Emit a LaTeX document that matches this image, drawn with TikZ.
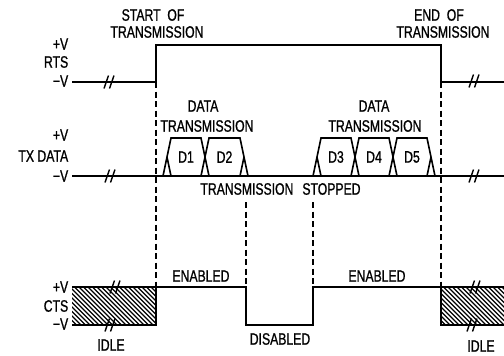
\documentclass[tikz,border=0pt]{standalone}
\usepackage{fontspec}
\setmainfont{Liberation Sans}[FakeStretch=0.74,FakeBold=0.9]
\begin{document}
\begin{tikzpicture}[x=1pt,y=-1pt, line width=1.6pt,
  lbl/.style={font=\fontsize{16.5}{16.5}\selectfont, inner sep=0pt},
  lblr/.style={lbl, anchor=east},
  guide/.style={dash pattern=on 6pt off 3.5pt, line width=1.4pt},
  hatchline/.style={line width=1.1pt},
  brk/.pic={\draw[line width=1.4pt] (-5,6.5) -- (-0.5,-6.5) (0.5,6.5) -- (5,-6.5);}]
\useasboundingbox (0,0) rectangle (504,356);

% RTS
\draw (72,82) -- (156,82) -- (156,45) -- (441,45) -- (441,82) -- (504,82);
\pic at (109,82) {brk};
\pic at (474,81) {brk};

% guides
\draw[guide] (156,82) -- (156,287);
\draw[guide] (441,82) -- (441,287);
\draw[guide] (246,202) -- (246,287);
\draw[guide] (313,202) -- (313,287);

% TX DATA
\draw (72,176) -- (504,176);
\draw (163,176) -- (171,138) -- (201,138) -- (209,176);
\draw (167,157) -- (171,176);
\draw (201,176) -- (209,138) -- (240,138) -- (248,176);
\draw (240,176) -- (244,157);
\draw (313,176) -- (321,138) -- (351,138) -- (359,176);
\draw (317,157) -- (321,176);
\draw (351,176) -- (359,138) -- (389,138) -- (397,176);
\draw (389,176) -- (397,138) -- (427,138) -- (435,176);
\draw (427,176) -- (431,157);
\pic at (110,176) {brk};
\pic at (474,176) {brk};

% CTS hatching
\begin{scope}
\clip (72,287) rectangle (156,325);
\foreach \i in {34,38.5,...,160} \draw[hatchline] (\i,287) -- ++(38,38);
\end{scope}
\begin{scope}
\clip (441,287) rectangle (504,325);
\foreach \i in {403,407.5,...,505} \draw[hatchline] (\i,287) -- ++(38,38);
\end{scope}
\draw (72,287) -- (246,287) -- (246,325) -- (313,325) -- (313,287) -- (504,287);
\draw (72,325) -- (156,325) -- (156,287);
\draw (441,287) -- (441,325) -- (504,325);
\pic at (115,287) {brk};
\pic at (110,325) {brk};
\pic at (475,287) {brk};
\pic at (472,325) {brk};

% labels
\node[lblr] (rtsp) at (69,44) {+V};
\node[lblr] (rts) at (69,62) {RTS};
\node[lblr] (rtsm) at (69,81) {−V};
\node[lblr] (txp) at (69,135) {+V};
\node[lblr] (tx) at (69,156) {TX DATA};
\node[lblr] (txm) at (69,176) {−V};
\node[lblr] (ctsp) at (69,287) {+V};
\node[lblr] (cts) at (69,306) {CTS};
\node[lblr] (ctsm) at (69,324) {−V};

\node[lbl] (so1) at (153,15) {START\ \ OF};
\node[lbl] (so2) at (157,32) {TRANSMISSION};
\node[lbl] (eo1) at (439,15) {END\ \ OF};
\node[lbl] (eo2) at (443,32) {TRANSMISSION};
\node[lbl] (dt1) at (203,106) {DATA};
\node[lbl] (dt2) at (207,126) {TRANSMISSION};
\node[lbl] (dt3) at (374,106) {DATA};
\node[lbl] (dt4) at (375,126) {TRANSMISSION};
\node[lbl] (d1) at (186,157) {D1};
\node[lbl] (d2) at (224.5,157) {D2};
\node[lbl] (d3) at (336,157) {D3};
\node[lbl] (d4) at (374,157) {D4};
\node[lbl] (d5) at (412,157) {D5};
\node[lbl] (stop) at (280.5,189) {TRANSMISSION\hspace{9pt}STOPPED};
\node[lbl] (en1) at (201,276) {ENABLED};
\node[lbl] (en2) at (377,276) {ENABLED};
\node[lbl] (dis) at (280,339) {DISABLED};
\node[lbl] (idle1) at (111,345) {IDLE};
\node[lbl] (idle2) at (481,346) {IDLE};
\end{tikzpicture}
\end{document}
